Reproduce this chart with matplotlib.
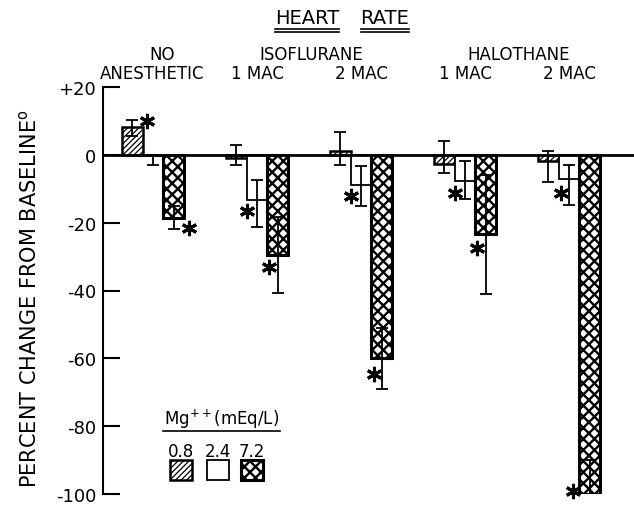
import numpy as np
import matplotlib
matplotlib.use("Agg")
import matplotlib.pyplot as plt
from matplotlib.patches import Rectangle
from matplotlib.lines import Line2D
from matplotlib.transforms import blended_transform_factory

# data (percent change from baseline)
groups = ["NO\nANESTHETIC", "1 MAC", "2 MAC", "1 MAC", "2 MAC"]
mg_levels = ["0.8", "2.4", "7.2"]

mean_08 = [8.2, -1.0, 1.0, -2.6, -1.7]
lo_08 = [2.5, 2.0, 4.0, 2.7, 6.3]
hi_08 = [2.0, 4.0, 5.7, 6.6, 2.7]

mean_24 = [-0.3, -13.2, -9.0, -7.6, -7.0]
lo_24 = [2.7, 8.2, 6.0, 5.3, 7.8]
hi_24 = [0.3, 5.9, 5.7, 5.8, 4.0]

mean_72 = [-18.5, -29.5, -60.0, -23.4, -100.0]
lo_72 = [3.5, 11.1, 9.0, 17.6, 10.0]
hi_72 = [3.5, 11.1, 9.0, 17.6, 10.0]

# significance asterisks: (group, series, y value)
stars = [(0, 0, 10.0), (0, 2, -21.5), (1, 1, -16.5), (1, 2, -33.0),
         (2, 1, -12.0), (2, 2, -64.5), (3, 1, -11.4), (3, 2, -27.5),
         (4, 1, -11.4), (4, 2, -99.0)]
star_dx = [0.14, 0.15, -0.10, -0.08, -0.10, -0.07, -0.10, -0.08, -0.08, -0.16]

W, H = 634, 506


def fy(py):
    return 1 - py / H


fig = plt.figure(figsize=(W / 100, H / 100), dpi=100)
ax = fig.add_axes([103 / W, 11 / H, (W - 103) / W, (495 - 88) / H])

x = np.arange(len(groups))
bw = 0.2
offs = [-0.2, 0.0, 0.2]
means = [mean_08, mean_24, mean_72]
los = [lo_08, lo_24, lo_72]
his = [hi_08, hi_24, hi_72]
hatches = ["//////", "", "xxx"]
edge_w = [1.8, 1.3, 2.2]
hatch_w = [0.9, 1.0, 1.7]

for i in range(3):
    bars = ax.bar(x + offs[i], means[i], bw, color="white", edgecolor="black",
                  linewidth=edge_w[i], hatch=hatches[i], zorder=2)
    for b in bars:
        if hasattr(b, "set_hatch_linewidth"):
            b.set_hatch_linewidth(hatch_w[i])
    ax.errorbar(x + offs[i], means[i], yerr=[los[i], his[i]], fmt="none",
                ecolor="black", elinewidth=1.3, capsize=4, capthick=1.3, zorder=3)

for (g, s, yv), dx in zip(stars, star_dx):
    ax.plot(x[g] + offs[s] + dx, yv, marker=(6, 2, 0), ms=11, mew=2.2,
            color="black", ls="none", zorder=4, clip_on=False)

ax.axhline(0, color="black", lw=2, zorder=3)
ax.set_xlim(-0.48, 4.625)
ax.set_ylim(-100, 20)
ax.set_yticks([20, 0, -20, -40, -60, -80, -100])
ax.set_yticklabels(["+20", "0", "-20", "-40", "-60", "-80", "-100"], fontsize=13)
ax.tick_params(axis="y", direction="in", length=12, width=1.5, pad=5)
ax.set_xticks([])
for sp in ["top", "right", "bottom"]:
    ax.spines[sp].set_visible(False)
ax.spines["left"].set_linewidth(1.5)
ax.patch.set_visible(False)

fig.text(29 / W, fy(299), "PERCENT CHANGE FROM BASELINE$^{\\mathsf{o}}$",
         rotation=90, ha="center", va="center", fontsize=15)

# group labels
ftr = blended_transform_factory(ax.transData, fig.transFigure)
ax.text(0.09, fy(55), "NO", transform=ftr, ha="center", va="center", fontsize=12)
ax.text(-0.01, fy(74), "ANESTHETIC", transform=ftr, ha="center", va="center", fontsize=12)
ax.text(1.52, fy(55), "ISOFLURANE", transform=ftr, ha="center", va="center", fontsize=12)
ax.text(3.52, fy(55), "HALOTHANE", transform=ftr, ha="center", va="center", fontsize=12)
for g in range(1, 5):
    ax.text(x[g], fy(74), groups[g], transform=ftr, ha="center", va="center", fontsize=12)

# title with double underline
t1 = fig.text(307 / W, fy(19), "HEART", ha="center", va="center", fontsize=14)
t2 = fig.text(385 / W, fy(19), "RATE", ha="center", va="center", fontsize=14)
fig.canvas.draw()
rend = fig.canvas.get_renderer()
for t in (t1, t2):
    bb = t.get_window_extent(rend)
    for py in (29.5, 33):
        fig.add_artist(Line2D([bb.x0 / W, bb.x1 / W], [fy(py), fy(py)],
                              color="black", lw=1.2))

# legend
fig.text(222 / W, fy(419), "Mg$^{++}$(mEq/L)", ha="center", va="center", fontsize=12)
fig.add_artist(Line2D([163 / W, 280 / W], [fy(432), fy(432)], color="black", lw=1.2))
lx = [170, 207, 241]
for i in range(3):
    fig.text((lx[i] + 11) / W, fy(452), mg_levels[i], ha="center", va="center", fontsize=12)
    r = Rectangle((lx[i] / W, fy(481)), 22 / W, 20 / H, transform=fig.transFigure,
                  facecolor="white", edgecolor="black", linewidth=edge_w[i],
                  hatch=hatches[i])
    if hasattr(r, "set_hatch_linewidth"):
        r.set_hatch_linewidth(hatch_w[i])
    fig.add_artist(r)

fig.savefig("out.png", dpi=100)
